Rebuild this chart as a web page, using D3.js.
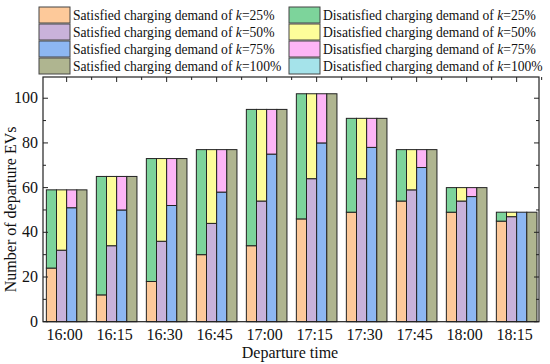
<!DOCTYPE html>
<html>
<head>
<meta charset="utf-8">
<script src="https://cdn.jsdelivr.net/npm/d3@7"></script>
<style>
  body { margin: 0; background: #fff; }
  svg text { font-family: "Liberation Serif", "Times New Roman", serif; fill: #111; }
</style>
</head>
<body>
<svg id="chart" width="550" height="364"></svg>
<script>
const times = ['16:00', '16:15', '16:30', '16:45', '17:00', '17:15', '17:30', '17:45', '18:00', '18:15'];
const totalEVs = [59, 65, 73, 77, 95, 102, 91, 77, 60, 49];
const satK25 = [24, 12, 18, 30, 34, 46, 49, 54, 49, 45];
const satK50 = [32, 34, 36, 44, 54, 64, 64, 59, 54, 47];
const satK75 = [51, 50, 52, 58, 75, 80, 78, 69, 56, 49];
const satK100 = [59, 65, 73, 77, 95, 102, 91, 77, 60, 49];
const kLabels = ['25%', '50%', '75%', '100%'];
const yTicks = [0, 20, 40, 60, 80, 100];

const satColors = ['#fdc99a', '#c9b2da', '#8db7f2', '#afb590'];
const disColors = ['#7dd49b', '#fdfd9a', '#fdb5f6', '#a5e3ea'];

const series = [satK25, satK50, satK75, satK100];

const svg = d3.select('#chart');
const m = { left: 43, right: 539, top: 77, bottom: 321.7 };

const x = d3.scaleLinear().domain([-0.473, 9.447]).range([m.left, m.right]);
const y = d3.scaleLinear().domain([0, 109.5]).range([m.bottom, m.top]);
const sub = d3.scaleBand().domain(d3.range(4)).range([-20.3, 20.3]);

// bars: satisfied part at the bottom, disatisfied part up to the total
const bars = [];
times.forEach((t, i) => {
    series.forEach((s, k) => {
        bars.push({ i, k, y0: 0, y1: s[i], color: satColors[k] });
        if (totalEVs[i] > s[i]) bars.push({ i, k, y0: s[i], y1: totalEVs[i], color: disColors[k] });
    });
});

svg.append('g').selectAll('rect').data(bars).join('rect')
    .attr('x', d => x(d.i) + sub(d.k))
    .attr('width', sub.bandwidth())
    .attr('y', d => y(d.y1))
    .attr('height', d => y(d.y0) - y(d.y1))
    .attr('fill', d => d.color)
    .attr('stroke', '#222')
    .attr('stroke-width', 1);

// frame
svg.append('rect')
    .attr('x', m.left).attr('y', m.top)
    .attr('width', m.right - m.left).attr('height', m.bottom - m.top)
    .attr('fill', 'none').attr('stroke', '#222').attr('stroke-width', 1.2);

// ticks, all inward
const yMinor = d3.range(10, 110, 20);
const ax = svg.append('g').attr('stroke', '#222').attr('stroke-width', 1);
yTicks.forEach(v => {
    ax.append('line').attr('x1', m.left).attr('x2', m.left + 5).attr('y1', y(v)).attr('y2', y(v));
    ax.append('line').attr('x1', m.right).attr('x2', m.right - 5).attr('y1', y(v)).attr('y2', y(v));
});
yMinor.forEach(v => {
    ax.append('line').attr('x1', m.left).attr('x2', m.left + 3).attr('y1', y(v)).attr('y2', y(v));
    ax.append('line').attr('x1', m.right).attr('x2', m.right - 3).attr('y1', y(v)).attr('y2', y(v));
});
times.forEach((t, i) => {
    ax.append('line').attr('x1', x(i)).attr('x2', x(i)).attr('y1', m.top).attr('y2', m.top + 5);
    ax.append('line').attr('x1', x(i + 0.5)).attr('x2', x(i + 0.5)).attr('y1', m.top).attr('y2', m.top + 3);
});

// tick labels
svg.append('g').selectAll('text').data(yTicks).join('text')
    .attr('x', m.left - 5).attr('y', d => y(d) + 5)
    .attr('text-anchor', 'end')
    .style('font-size', '16px')
    .text(d => d);

svg.append('g').selectAll('text').data(times).join('text')
    .attr('x', (d, i) => x(i) - 2).attr('y', m.bottom + 18)
    .attr('text-anchor', 'middle')
    .style('font-size', '16px')
    .text(d => d);

svg.append('text')
    .attr('x', 290).attr('y', 358)
    .attr('text-anchor', 'middle')
    .style('font-size', '16px')
    .text('Departure time');

svg.append('text')
    .attr('transform', `translate(16, ${(m.top + m.bottom) / 2 + 10}) rotate(-90)`)
    .attr('text-anchor', 'middle')
    .style('font-size', '16px')
    .text('Number of departure EVs');

// legend
const legend = svg.append('g');
const rowY = [7, 24, 41, 58];
const cols = [
    { sx: 39, tx: 73, label: 'Satisfied charging demand of ', colors: satColors },
    { sx: 289, tx: 323, label: 'Disatisfied charging demand of ', colors: disColors }
];
cols.forEach(c => {
    kLabels.forEach((kl, r) => {
        legend.append('rect')
            .attr('x', c.sx).attr('y', rowY[r])
            .attr('width', 31).attr('height', 16)
            .attr('fill', c.colors[r])
            .attr('stroke', '#444').attr('stroke-width', 1);
        const tx = legend.append('text')
            .attr('x', c.tx).attr('y', rowY[r] + 13)
            .style('font-size', '13.6px');
        tx.append('tspan').text(c.label);
        tx.append('tspan').style('font-style', 'italic').text('k');
        tx.append('tspan').text('=' + kl);
    });
});
</script>
</body>
</html>
